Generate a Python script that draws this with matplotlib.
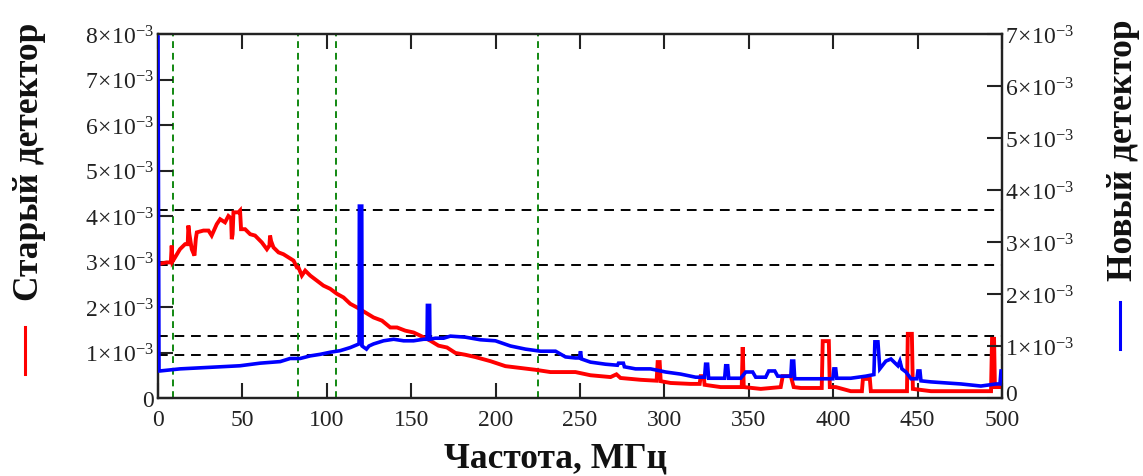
import numpy as np
import matplotlib
matplotlib.use("Agg")
import matplotlib.pyplot as plt
import matplotlib.transforms as mtransforms
from matplotlib.ticker import FuncFormatter, MultipleLocator
from matplotlib.lines import Line2D

plt.rcParams['font.family'] = ['Liberation Serif', 'DejaVu Serif']
plt.rcParams['mathtext.fontset'] = 'custom'
plt.rcParams['mathtext.rm'] = 'Liberation Serif'
plt.rcParams['mathtext.it'] = 'Liberation Serif:italic'
plt.rcParams['mathtext.bf'] = 'Liberation Serif:bold'

# ---- data (values in units of 1e-3) ----
old_freq = [0, 1.2, 5.1, 7.6, 8.1, 8.6, 10.1, 13.0, 16.0, 17.6, 18.0, 18.6, 20.0, 21.6,
            22.4, 23.0, 26.9, 29.9, 31.8, 34.8, 36.8, 39.7, 41.7, 43.3, 43.7, 44.2, 44.7,
            47.6, 48.6, 49.2, 51.6, 54.6, 57.5, 61.5, 64.5, 66.0, 66.4, 67.0, 68.4, 71.4,
            74.3, 77.3, 80.3, 82.3, 83.2, 85.2, 87.2, 90.2, 94.1, 98.0, 102.0, 106.0,
            109.9, 113.9, 117.9, 122.8, 127.7, 132.7, 137.6, 141.6, 146.5, 151.4, 155.4,
            161.3, 166.2, 171.2, 176.2, 182.1, 188.0, 196.9, 205.8, 214.7, 223.6,
            232.5, 247.3, 256.2, 268.1, 271.6, 274.0, 285.9, 295.4, 296.0, 297.2, 297.8,
            303.7, 315.5, 320.9, 321.5, 323.3, 323.8, 333.3, 345.8, 346.4, 347.0, 357.1,
            368.9, 370.1, 374.9, 376.6, 380.8, 393.2, 393.8, 397.4, 398.0, 401.5, 410.4,
            417.0, 417.6, 421.7, 422.3, 443.7, 444.2, 446.6, 447.2, 457.9, 493.5, 494.1,
            495.3, 495.8, 500]
old_vals = [2.92, 2.95, 2.98, 2.98, 3.35, 3.0, 3.09, 3.27, 3.38, 3.38, 3.79, 3.6, 3.27, 3.13,
            3.5, 3.64, 3.68, 3.68, 3.57, 3.82, 3.93, 3.86, 4.0, 3.95, 3.49, 3.6, 4.08,
            4.08, 4.12, 3.71, 3.71, 3.60, 3.57, 3.42, 3.27, 3.35, 3.57, 3.45, 3.31, 3.20,
            3.16, 3.09, 3.02, 2.87, 2.87, 2.69, 2.80, 2.69, 2.58, 2.47, 2.40, 2.29,
            2.21, 2.07, 1.99, 1.88, 1.77, 1.70, 1.55, 1.55, 1.48, 1.44, 1.37,
            1.26, 1.15, 1.11, 0.99, 0.95, 0.9, 0.81, 0.70, 0.66, 0.62,
            0.57, 0.57, 0.50, 0.46, 0.52, 0.44, 0.40, 0.38, 0.79, 0.79, 0.37,
            0.33, 0.31, 0.31, 0.48, 0.48, 0.29, 0.24, 0.24, 1.12, 0.24, 0.20,
            0.24, 0.48, 0.48, 0.24, 0.22, 0.22, 1.25, 1.25, 0.24, 0.24, 0.15,
            0.15, 0.42, 0.42, 0.15, 0.15, 1.41, 1.41, 0.20, 0.15, 0.15, 1.30,
            1.30, 0.24, 0.24]

new_freq = [0, 0.6, 1.2, 13.0, 24.9, 36.8, 48.6, 60.5, 72.4, 78.3, 84.2, 90.2, 96.1,
            102.0, 107.9, 113.9, 119.1, 119.3, 120.0, 120.7, 120.9, 123.5, 125.0, 127.7,
            133.6, 139.6, 145.5, 151.4, 157.4, 159.4, 159.6, 160.9, 161.1, 164.3, 169.2,
            173.2, 182.1, 191.0, 199.9, 208.8, 217.7,
            226.6, 235.5, 241.4, 247.3, 249.7, 250.3, 250.9, 256.2, 265.1, 272.2, 272.8,
            275.7, 276.3, 282.9, 291.8, 300.7, 309.6, 318.5, 323.8, 324.4, 325.6, 326.2,
            333.3, 335.7, 336.3, 337.5, 338.1, 345.2, 348.2, 352.3, 354.1, 360.0, 361.8,
            365.4, 367.1, 371.9, 374.9, 375.4, 376.6, 377.2, 380.8, 399.8, 400.4, 401.5,
            402.1, 410.4, 419.3, 424.1, 424.7, 426.5, 427.6, 431.2, 434.2, 438.3, 439.5,
            440.7, 443.1, 446.1, 449.6, 450.2, 451.4, 452.0, 457.9, 475.7, 487.5, 496.4,
            498.8, 499.4, 500]
new_vals = [6.94, 0.52, 0.52, 0.56, 0.58, 0.60, 0.62, 0.67, 0.70, 0.76, 0.76, 0.81, 0.84,
            0.88, 0.91, 0.97, 1.04, 3.69, 3.69, 3.69, 1.0, 0.94, 1.0, 1.04,
            1.10, 1.13, 1.10, 1.10, 1.13, 1.13, 1.78, 1.78, 1.13, 1.15, 1.15,
            1.19, 1.17, 1.12, 1.10, 1.00, 0.94,
            0.90, 0.90, 0.79, 0.77, 0.77, 0.90, 0.75, 0.69, 0.65, 0.63, 0.67,
            0.67, 0.60, 0.56, 0.56, 0.50, 0.46, 0.40, 0.40, 0.65, 0.65, 0.38,
            0.38, 0.38, 0.62, 0.62, 0.38, 0.38, 0.50, 0.50, 0.40, 0.40, 0.52,
            0.52, 0.42, 0.42, 0.42, 0.71, 0.71, 0.37, 0.37, 0.37, 0.56, 0.56,
            0.38, 0.38, 0.42, 0.45, 1.08, 1.08, 0.56, 0.71, 0.75, 0.62, 0.71,
            0.56, 0.50, 0.37, 0.37, 0.52, 0.52, 0.33, 0.31, 0.27, 0.23, 0.27,
            0.27, 0.52, 0.52]

h_levels = [4.13, 2.92, 1.36, 0.945]        # left-axis units (1e-3)
v_levels = [9, 83, 105.5, 225]              # MHz

x_ticks = [0, 50, 100, 150, 200, 250, 300, 350, 400, 450, 500]

# ---- figure ----
fig = plt.figure(figsize=(11.43, 4.77), dpi=100)
ax = fig.add_axes([158/1143, 78/477, 844/1143, 364/477])
ax2 = ax.twinx()

ax.set_xlim(0, 500)
ax.set_ylim(0, 8e-3)
ax2.set_ylim(0, 7e-3)

for lv in h_levels:
    ax.axhline(lv * 1e-3, color='black', lw=1.4, ls=(0, (5, 3.5)), zorder=1)
for vl in v_levels:
    ax.axvline(vl, color='#118811', lw=1.4, ls=(0, (3.5, 2.5)), zorder=1)

ax.plot(old_freq, np.array(old_vals) * 1e-3, color='#ff0000', lw=2.8, zorder=3,
        solid_joinstyle='miter')
ax2.plot(new_freq, np.array(new_vals) * 1e-3, color='#0000ff', lw=2.6, zorder=3,
         solid_joinstyle='miter')

def fmt(v, pos):
    n = int(round(v * 1e3))
    if n == 0:
        return '0'
    return r'$%d\!\times\!10^{-3}$' % n

ax.set_xticks(x_ticks)
ax.yaxis.set_major_locator(MultipleLocator(1e-3))
ax2.yaxis.set_major_locator(MultipleLocator(1e-3))
ax.yaxis.set_major_formatter(FuncFormatter(fmt))
ax2.yaxis.set_major_formatter(FuncFormatter(fmt))

ax.tick_params(axis='both', direction='in', length=11, width=1.5, labelsize=17,
               top=True, colors='#222222')
ax.tick_params(axis='x', pad=8)
ax.tick_params(axis='y', right=False, pad=3)
ax2.tick_params(axis='y', direction='in', length=11, width=1.5, labelsize=17,
                colors='#222222', pad=2)
for a in (ax, ax2):
    for s in a.spines.values():
        s.set_linewidth(1.6)
        s.set_color('#222222')

# nudge the right-axis "0" label up a little so it clears the "500" label
fig.canvas.draw()
for lbl in ax2.get_yticklabels():
    if lbl.get_text() == '0':
        lbl.set_transform(lbl.get_transform() +
                          mtransforms.ScaledTranslation(0, 4/72, fig.dpi_scale_trans))

# axis titles
fig.text(30/1143, 1 - 162/477, 'Старый детектор', rotation=90, fontsize=25.5,
         fontweight='bold', ha='center', va='center', color='#111111')
fig.text(1123/1143, 1 - 150/477, 'Новый детектор', rotation=90, fontsize=25.5,
         fontweight='bold', ha='center', va='center', color='#111111')
fig.text(556/1143, 1 - 459/477, 'Частота, МГц', fontsize=25.5, fontweight='bold',
         ha='center', va='center', color='#111111')

fig.add_artist(Line2D([25/1143, 25/1143], [1 - 328/477, 1 - 375/477],
                      color='#ff0000', lw=2.2, transform=fig.transFigure))
fig.add_artist(Line2D([1120/1143, 1120/1143], [1 - 303/477, 1 - 350/477],
                      color='#0000ff', lw=2.2, transform=fig.transFigure))

fig.savefig('out.png', dpi=100)
